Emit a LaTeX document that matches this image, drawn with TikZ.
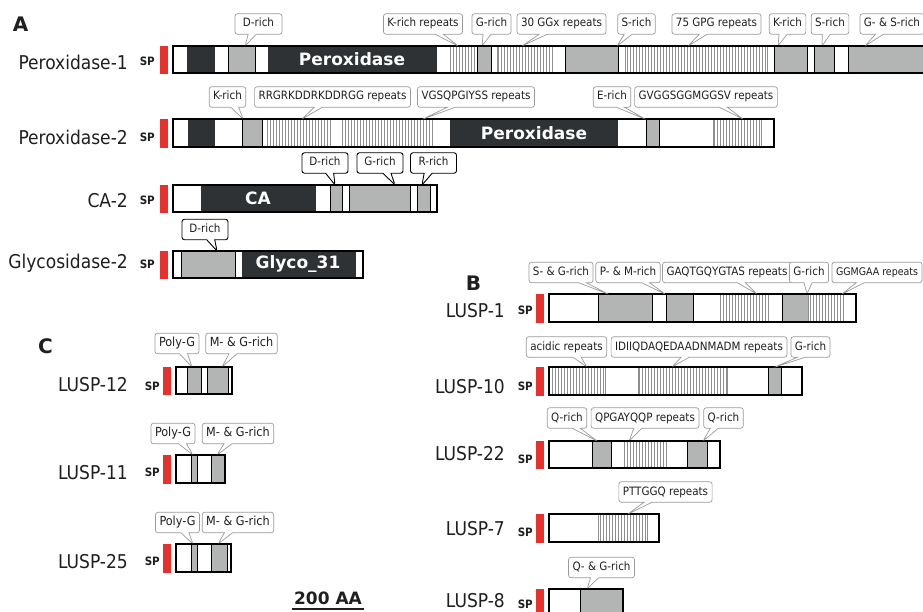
\documentclass[tikz,border=0pt]{standalone}
\usepackage{fontspec}
\setmainfont{DejaVu Sans Condensed}
\newfontfamily\heavy{DejaVu Sans}
\usetikzlibrary{shapes.callouts,patterns}
\definecolor{Ink}{HTML}{1F1F1F}
\definecolor{Dom}{HTML}{B3B5B5}
\definecolor{Core}{HTML}{2F3234}
\definecolor{Sig}{HTML}{E8302C}
\definecolor{Edge}{HTML}{9B9B9B}
\definecolor{Rep}{HTML}{8E8E8E}

\begin{document}
\begin{tikzpicture}[x=1pt,y=-1pt,pname/.style={font=\fontsize{19}{20}\selectfont, text=Ink, anchor=base east, inner sep=0pt},sp/.style={font=\bfseries\fontsize{11.5}{12}\selectfont, text=Ink, anchor=east, inner sep=0pt},spbar/.style={fill=Sig},body/.style={fill=white},outl/.style={draw=black, line width=1.6pt},gdom/.style={fill=Dom, draw=black, line width=0.7pt},ddom/.style={fill=Core},rdom/.style={pattern=vertical lines, pattern color=Rep, draw=Rep, line width=0.6pt},dlab/.style={font=\heavy\bfseries\fontsize{17}{18}\selectfont, text=white, inner sep=0pt},tag/.style={rectangle callout, rounded corners=2.5pt, draw=Edge, fill=white, line width=0.7pt, text=Ink, font=\fontsize{11.5}{12}\selectfont, inner xsep=4pt, inner ysep=0pt, text height=8.5pt, text depth=2.5pt, minimum height=20.5pt, callout pointer width=8pt},btag/.style={tag, draw=black, line width=0.9pt, minimum width=46pt},ctag/.style={tag, font=\fontsize{12.5}{13}\selectfont},panel/.style={font=\heavy\bfseries\fontsize{20}{22}\selectfont, text=Ink, inner sep=0pt}]
\useasboundingbox (0,0) rectangle (923,612);
% panel A
\node[panel] (pA) at (20.5,24.5) {A};
% Peroxidase-1
\node[pname] (per1) at (128,70) {Peroxidase-1};
\path[spbar] (160,46) rectangle (168,74); \node[sp] (sp-per1) at (155,61) {SP};
\path[body] (173,46) rectangle (926,73);
\path[ddom] (187,46) rectangle (215,73);
\path[gdom] (228,46) rectangle (255,73);
\path[ddom] (268,46) rectangle (437,73);
\path[rdom] (450,46) rectangle (477,73);
\path[gdom] (477,46) rectangle (491,73);
\path[rdom] (497,46) rectangle (552,73);
\path[gdom] (565,46) rectangle (618,73);
\path[rdom] (625,46) rectangle (767,73);
\path[gdom] (774,46) rectangle (807,73);
\path[gdom] (814,46) rectangle (834,73);
\path[gdom] (848,46) rectangle (928,73);
\draw[outl] (928,46) -- (173,46) -- (173,73) -- (928,73);
\node[dlab] (dom-per1) at (352,59.5) {Peroxidase};
\node[tag, minimum width=47pt, callout absolute pointer={(245,46)}] (t-per1-a) at (258.5,24) {D-rich};
\node[tag, callout absolute pointer={(458,46)}] (t-per1-b) at (423,24) {K-rich repeats};
\node[tag, callout absolute pointer={(482,46)}] (t-per1-c) at (491.5,24) {G-rich};
\node[tag, callout absolute pointer={(522,46)}] (t-per1-d) at (561.5,24) {30 GGx repeats};
\node[tag, callout absolute pointer={(617,46)}] (t-per1-e) at (636.5,24) {S-rich};
\node[tag, callout absolute pointer={(688,46)}] (t-per1-f) at (716.5,24) {75 GPG repeats};
\node[tag, callout absolute pointer={(778,46)}] (t-per1-g) at (787.5,24) {K-rich};
\node[tag, callout absolute pointer={(822,46)}] (t-per1-h) at (830,24) {S-rich};
\node[tag, callout absolute pointer={(865,46)}] (t-per1-i) at (892,24) {G- \& S-rich};
% Peroxidase-2
\node[pname] (per2) at (128,145) {Peroxidase-2};
\path[spbar] (160,119) rectangle (168,148); \node[sp] (sp-per2) at (155,137) {SP};
\path[body] (173,119) rectangle (774,147);
\path[ddom] (188,119) rectangle (215,147);
\path[gdom] (242,119) rectangle (262,147);
\path[rdom] (267,119) rectangle (330,147);
\path[rdom] (342,119) rectangle (432,147);
\path[ddom] (450,119) rectangle (618,147);
\path[gdom] (646,119) rectangle (659,147);
\path[rdom] (713,119) rectangle (761,147);
\draw[outl] (173,119) rectangle (774,147);
\node[dlab] (dom-per2) at (534,133) {Peroxidase};
\node[tag, callout absolute pointer={(243,119)}] (t-per2-a) at (227.5,97) {K-rich};
\node[tag, callout absolute pointer={(302,119)}] (t-per2-b) at (332.5,97) {RRGRKDDRKDDRGG repeats};
\node[tag, callout absolute pointer={(423,119)}] (t-per2-c) at (476,97) {VGSQPGIYSS repeats};
\node[tag, callout absolute pointer={(645,119)}] (t-per2-d) at (612,97) {E-rich};
\node[tag, callout absolute pointer={(743,119)}] (t-per2-e) at (706,97) {GVGGSGGMGGSV repeats};
% CA-2
\node[pname] (ca2) at (128,208) {CA-2};
\path[spbar] (160,185) rectangle (168,213); \node[sp] (sp-ca2) at (155,200) {SP};
\path[body] (173,185) rectangle (437,212);
\path[ddom] (201,185) rectangle (316,212);
\path[gdom] (330,185) rectangle (342,212);
\path[gdom] (349,185) rectangle (410,212);
\path[gdom] (417,185) rectangle (430,212);
\draw[outl] (173,185) rectangle (437,212);
\node[dlab] (dom-ca2) at (258,198.5) {CA};
\node[btag, callout absolute pointer={(335,185)}] (t-ca2-a) at (325,163) {D-rich};
\node[btag, callout absolute pointer={(395,185)}] (t-ca2-b) at (380,163) {G-rich};
\node[btag, callout absolute pointer={(422,185)}] (t-ca2-c) at (433.5,163) {R-rich};
% Glycosidase-2
\node[pname] (gly2) at (128,269) {Glycosidase-2};
\path[spbar] (160,251) rectangle (168,279); \node[sp] (sp-gly2) at (155,264) {SP};
\path[body] (173,251) rectangle (363,278);
\path[gdom] (181,251) rectangle (235,278);
\path[ddom] (242,251) rectangle (356,278);
\draw[outl] (173,251) rectangle (363,278);
\node[dlab] (dom-gly2) at (298,264.5) {Glyco\_31};
\node[btag, callout absolute pointer={(217,251)}] (t-gly2-a) at (205,229.5) {D-rich};
% panel B
\node[panel] (pB) at (473.5,283.5) {B};
% LUSP-1
\node[pname] (lusp1) at (505,317) {LUSP-1};
\path[spbar] (536,294) rectangle (544,323); \node[sp] (sp-lusp1) at (533,310) {SP};
\path[body] (549,294) rectangle (856,322);
\path[gdom] (598,294) rectangle (652,322);
\path[gdom] (666,294) rectangle (693,322);
\path[rdom] (720,294) rectangle (768,322);
\path[gdom] (782,294) rectangle (808,322);
\path[rdom] (808,294) rectangle (843,322);
\draw[outl] (549,294) rectangle (856,322);
\node[tag, callout absolute pointer={(608,294)}] (t-lusp1-a) at (561,272.5) {S- \& G-rich};
\node[tag, callout absolute pointer={(665,294)}] (t-lusp1-b) at (628,272.5) {P- \& M-rich};
\node[tag, callout absolute pointer={(757,294)}] (t-lusp1-c) at (727,272.5) {GAQTGQYGTAS repeats};
\node[tag, callout absolute pointer={(807,294)}] (t-lusp1-d) at (809,272.5) {G-rich};
\node[tag, font=\fontsize{10.5}{11}\selectfont, callout absolute pointer={(842,294)}] (t-lusp1-e) at (877,272.5) {GGMGAA repeats};
% LUSP-10
\node[pname] (lusp10) at (505,393) {LUSP-10};
\path[spbar] (536,367) rectangle (544,396); \node[sp] (sp-lusp10) at (533,386) {SP};
\path[body] (549,367) rectangle (802,395);
\path[rdom] (549,367) rectangle (605,395);
\path[rdom] (638,367) rectangle (727,395);
\path[gdom] (768,367) rectangle (781,395);
\draw[outl] (549,367) rectangle (802,395);
\node[tag, callout absolute pointer={(587,367)}] (t-lusp10-a) at (566.5,347) {acidic repeats};
\node[tag, callout absolute pointer={(672,367)}] (t-lusp10-b) at (699,347) {IDIIQDAQEDAADNMADM repeats};
\node[tag, callout absolute pointer={(775,367)}] (t-lusp10-c) at (810.5,347) {G-rich};
% LUSP-22
\node[pname] (lusp22) at (505,460) {LUSP-22};
\path[spbar] (536,441) rectangle (544,469); \node[sp] (sp-lusp22) at (533,459) {SP};
\path[body] (549,441) rectangle (720,468);
\path[gdom] (592,441) rectangle (611,468);
\path[rdom] (624,441) rectangle (666,468);
\path[gdom] (687,441) rectangle (707,468);
\draw[outl] (549,441) rectangle (720,468);
\node[tag, callout absolute pointer={(597,441)}] (t-lusp22-a) at (567,418) {Q-rich};
\node[tag, callout absolute pointer={(629,441)}] (t-lusp22-b) at (645,418) {QPGAYQQP repeats};
\node[tag, callout absolute pointer={(703,441)}] (t-lusp22-c) at (723.5,418) {Q-rich};
% LUSP-7
\node[pname] (lusp7) at (505,535) {LUSP-7};
\path[spbar] (536,514) rectangle (544,543); \node[sp] (sp-lusp7) at (533,532) {SP};
\path[body] (549,514) rectangle (659,542);
\path[rdom] (598,514) rectangle (647,542);
\draw[outl] (549,514) rectangle (659,542);
\node[tag, callout absolute pointer={(628,514)}] (t-lusp7-a) at (665.5,492) {PTTGGQ repeats};
% LUSP-8
\node[pname] (lusp8) at (505,607) {LUSP-8};
\path[spbar] (536,589) rectangle (544,618); \node[sp] (sp-lusp8) at (533,604) {SP};
\path[body] (549,589) rectangle (623,618);
\path[gdom] (580,589) rectangle (623,618);
\draw[outl] (549,618) -- (549,589) -- (623,589) -- (623,618);
\node[tag, callout absolute pointer={(587,589)}] (t-lusp8-a) at (601.5,567.5) {Q- \& G-rich};
% panel C
\node[panel] (pC) at (45.5,346.5) {C};
% LUSP-12
\node[pname] (lusp12) at (128,391) {LUSP-12};
\path[spbar] (163,367) rectangle (171,395); \node[sp] (sp-lusp12) at (160,386) {SP};
\path[body] (176,367) rectangle (232,394);
\path[gdom] (187,367) rectangle (201,394);
\path[gdom] (207,367) rectangle (228,394);
\draw[outl] (176,367) rectangle (232,394);
\node[ctag, callout absolute pointer={(192,367)}] (t-lusp12-a) at (177,343.5) {Poly-G};
\node[ctag, callout absolute pointer={(222,367)}] (t-lusp12-b) at (241.5,343.5) {M- \& G-rich};
% LUSP-11
\node[pname] (lusp11) at (128,479) {LUSP-11};
\path[spbar] (163,455) rectangle (171,484); \node[sp] (sp-lusp11) at (160,472.5) {SP};
\path[body] (176,455) rectangle (225,483);
\path[gdom] (191,455) rectangle (197,483);
\path[gdom] (211,455) rectangle (225,483);
\draw[outl] (176,455) rectangle (225,483);
\node[ctag, callout absolute pointer={(193,455)}] (t-lusp11-a) at (173,433.5) {Poly-G};
\node[ctag, callout absolute pointer={(217,455)}] (t-lusp11-b) at (238,433.5) {M- \& G-rich};
% LUSP-25
\node[pname] (lusp25) at (128,568) {LUSP-25};
\path[spbar] (163,544) rectangle (171,573); \node[sp] (sp-lusp25) at (160,561) {SP};
\path[body] (176,544) rectangle (231,572);
\path[gdom] (191,544) rectangle (197,572);
\path[gdom] (211,544) rectangle (227,572);
\draw[outl] (176,544) rectangle (231,572);
\node[ctag, callout absolute pointer={(193,544)}] (t-lusp25-a) at (177.5,522.5) {Poly-G};
\node[ctag, callout absolute pointer={(218,544)}] (t-lusp25-b) at (238,522.5) {M- \& G-rich};
% scale
\node[font=\heavy\bfseries\fontsize{17}{18}\selectfont, text=Ink, inner xsep=2pt, inner ysep=4pt] (scale) at (328,598.5) {200 AA};
\draw[line width=1.5pt, Ink] (scale.south west) -- (scale.south east);
\end{tikzpicture}
\end{document}
